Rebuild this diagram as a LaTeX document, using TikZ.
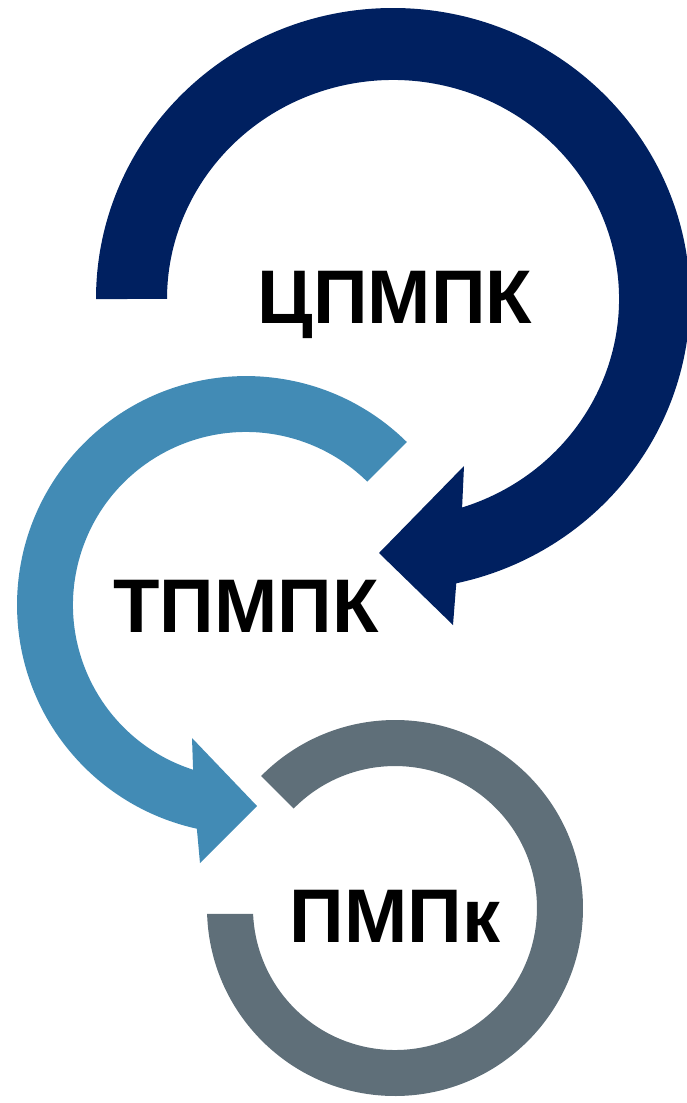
\documentclass[tikz,border=0pt]{standalone}
\usepackage{fontspec}
\setmainfont{Liberation Sans}
\definecolor{navy}{HTML}{002060}
\definecolor{steel}{HTML}{428BB5}
\definecolor{slate}{HTML}{5F6F79}
\begin{document}
\begin{tikzpicture}[x=1pt,y=-1pt,
  lbl/.style={font=\bfseries\fontsize{76}{80}\selectfont, inner sep=0pt, anchor=base, text=black}]
\useasboundingbox (0,0) rectangle (687,1103);
% navy circular arrow
\fill[navy] (96,299) arc[start angle=180,end angle=437.7,x radius=297,y radius=291]
  -- (453,625) -- (379,553) -- (464,466) -- (462.1,507.5)
  arc[start angle=432.2,end angle=180,x radius=226,y radius=219] -- cycle;
% blue circular arrow
\fill[steel] (406.8,442.0) arc[start angle=-45.4,end angle=-257.6,radius=229]
  -- (200,863) -- (257,806) -- (192,738) -- (193.1,769.7)
  arc[start angle=-252.2,end angle=-45.5,radius=173] -- cycle;
% grey ring
\fill[slate] (207.1,913.9) arc[start angle=178.2,end angle=-135.4,radius=188]
  -- (293.7,808.5) arc[start angle=-135.5,end angle=177.6,radius=142] -- cycle;
\node[lbl] (t1) at (395,323) {ЦПМПК};
\node[lbl] (t2) at (246,632) {ТПМПК};
\node[lbl] (t3) at (395,942) {ПМПк};
\end{tikzpicture}
\end{document}
